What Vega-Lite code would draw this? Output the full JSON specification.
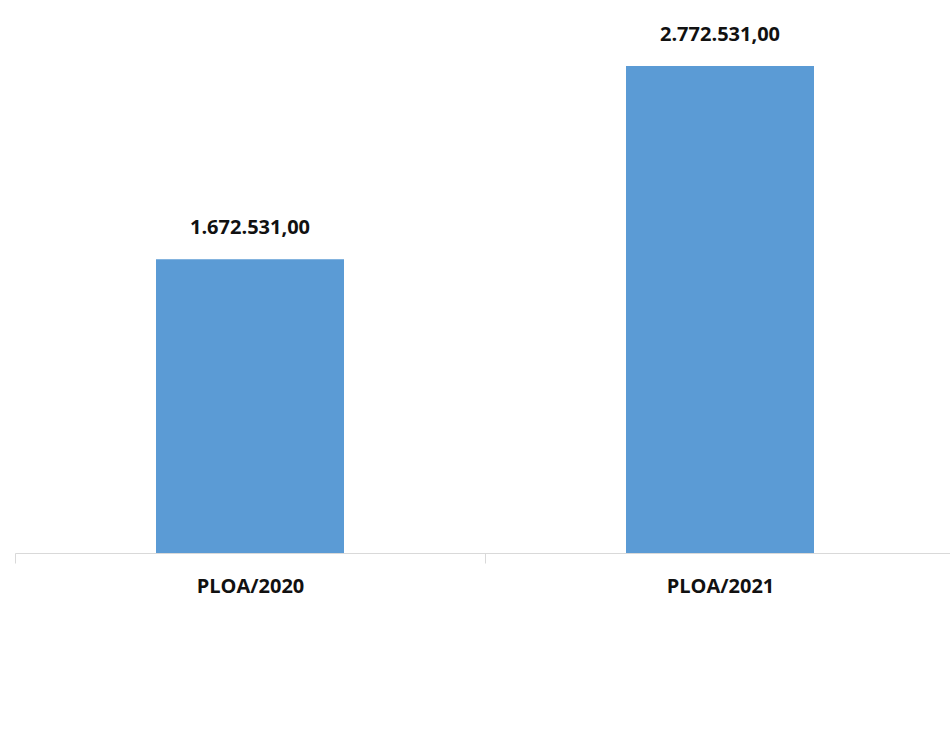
{
  "$schema": "https://vega.github.io/schema/vega-lite/v6.json",
  "autosize": {"type": "none"},
  "padding": {"left": 15, "top": 0, "right": 0, "bottom": 200},
  "width": 940,
  "height": 553,
  "background": "white",
  "config": {"view": {"stroke": null}},
  "data": {
    "values": [
      {"projeto": "PLOA/2020", "valor": 1672531.00, "rotulo": "1.672.531,00"},
      {"projeto": "PLOA/2021", "valor": 2772531.00, "rotulo": "2.772.531,00"}
    ]
  },
  "encoding": {
    "x": {
      "field": "projeto",
      "type": "nominal",
      "sort": null,
      "scale": {"paddingInner": 0, "paddingOuter": 0},
      "axis": {
        "title": null,
        "labelAngle": 0,
        "labelFont": "Open Sans",
        "labelFontWeight": "bold",
        "labelFontSize": 20,
        "labelColor": "#111111",
        "labelPadding": 13,
        "tickBand": "extent",
        "tickSize": 10,
        "tickColor": "#d9d9d9",
        "domainColor": "#d9d9d9",
        "tickWidth": 1,
        "domainWidth": 1,
        "grid": false
      }
    },
    "y": {
      "field": "valor",
      "type": "quantitative",
      "scale": {"domain": [0, 3148000], "zero": true, "nice": false},
      "axis": null
    }
  },
  "layer": [
    {
      "mark": {"type": "bar", "color": "#5b9bd5", "width": {"band": 0.4}}
    },
    {
      "mark": {
        "type": "text",
        "baseline": "middle",
        "dy": -31,
        "font": "Open Sans",
        "fontWeight": "bold",
        "fontSize": 20,
        "color": "#111111"
      },
      "encoding": {"text": {"field": "rotulo", "type": "nominal"}}
    }
  ]
}
